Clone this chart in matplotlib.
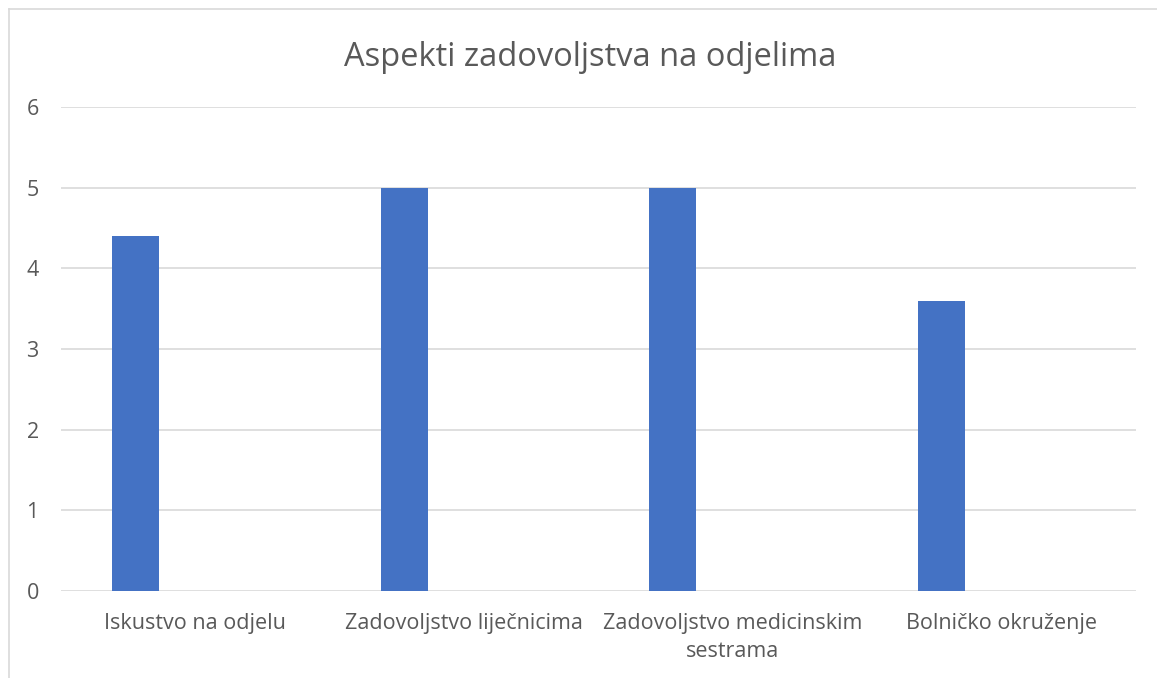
import matplotlib.pyplot as plt
from matplotlib.lines import Line2D
import numpy as np

categories = ['Iskustvo na odjelu', 'Zadovoljstvo liječnicima',
              'Zadovoljstvo medicinskim\nsestrama', 'Bolničko okruženje']
values = [4.4, 5.0, 5.0, 3.6]
yticks = [0, 1, 2, 3, 4, 5, 6]

plt.rcParams['font.family'] = ['Open Sans', 'DejaVu Sans']

W, H = 1157, 678
fig = plt.figure(figsize=(W / 100, H / 100), dpi=100)
ax = fig.add_axes([61 / W, 87 / H, (1136 - 61) / W, (591 - 107) / H])

x = np.arange(len(categories))
ax.bar(x - 0.223, values, width=0.175, color='#4472C4', zorder=3)

ax.set_xlim(-0.5, len(categories) - 0.5)
ax.set_ylim(0, 6)
ax.set_yticks(yticks)
ax.set_xticks(x)
ax.set_xticklabels(categories, fontsize=15.5, color='#595959', linespacing=1.4)
ax.tick_params(axis='y', length=0, pad=16, labelsize=15.5, labelcolor='#595959')
ax.tick_params(axis='x', length=0, pad=16)
ax.grid(axis='y', color='#d9d9d9', linewidth=1.2, zorder=0)
for s in ax.spines.values():
    s.set_visible(False)

fig.text(590 / W, 1 - 58 / H, 'Aspekti zadovoljstva na odjelima', ha='center', va='center',
         fontsize=23.5, color='#595959')

# chart border (left and top only visible)
fig.add_artist(Line2D([9 / W, 9 / W], [0, 1 - 9 / H], color='#d9d9d9', linewidth=1.2))
fig.add_artist(Line2D([9 / W, 1], [1 - 9 / H, 1 - 9 / H], color='#d9d9d9', linewidth=1.2))

fig.savefig('out.png', dpi=100)
